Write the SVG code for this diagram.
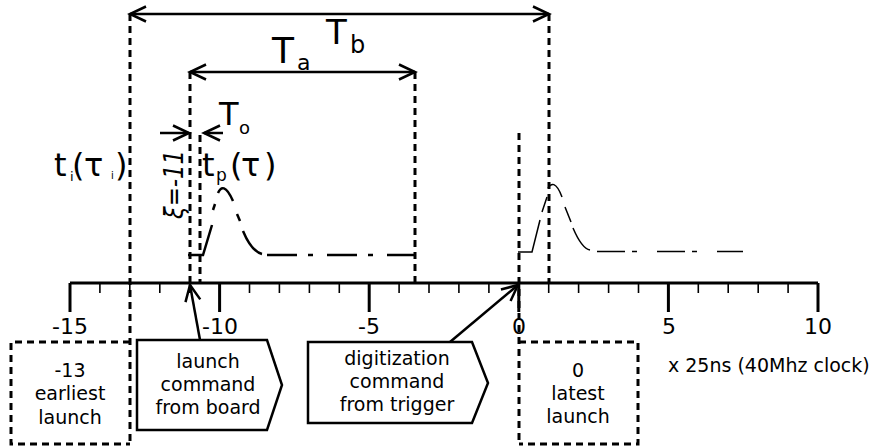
<svg xmlns="http://www.w3.org/2000/svg" width="873" height="447" viewBox="0 0 873 447">
<style>
text{font-family:"DejaVu Sans","Liberation Sans",sans-serif;fill:#000}
.dash{fill:none;stroke:#000;stroke-width:3;stroke-dasharray:7 5}
.ln{fill:none;stroke:#000;stroke-width:2.5}
.tk{stroke:#000;stroke-width:1.6}
.mj{stroke:#000;stroke-width:3}
.box{fill:#fff;stroke:#000;stroke-width:2.5;stroke-linejoin:miter}
.bt{font-size:19px;text-anchor:middle}
.tl{font-size:22px;text-anchor:middle}
.p1{fill:none;stroke:#000;stroke-width:2.5}
.p2{fill:none;stroke:#000;stroke-width:1.5}
</style>
<defs>
<marker id="ah" markerUnits="userSpaceOnUse" markerWidth="22" markerHeight="20" viewBox="0 0 22 20" refX="17" refY="10" orient="auto-start-reverse">
<path d="M1,2.5 L17,10 L1,17.5" fill="none" stroke="#000" stroke-width="2.5"/>
</marker>
</defs>

<g id="axis">
<line class="mj" x1="70" y1="283" x2="818" y2="283"/>
<g class="mj">
<line x1="70" y1="283" x2="70" y2="312"/>
<line x1="219.6" y1="283" x2="219.6" y2="312"/>
<line x1="369.2" y1="283" x2="369.2" y2="312"/>
<line x1="518.8" y1="283" x2="518.8" y2="312"/>
<line x1="668.4" y1="283" x2="668.4" y2="312"/>
<line x1="818" y1="283" x2="818" y2="312"/>
</g>
<g class="tk">
<line x1="99.9" y1="283" x2="99.9" y2="293"/>
<line x1="129.8" y1="283" x2="129.8" y2="293"/>
<line x1="159.8" y1="283" x2="159.8" y2="293"/>
<line x1="189.7" y1="283" x2="189.7" y2="293"/>
<line x1="249.5" y1="283" x2="249.5" y2="293"/>
<line x1="279.4" y1="283" x2="279.4" y2="293"/>
<line x1="309.4" y1="283" x2="309.4" y2="293"/>
<line x1="339.3" y1="283" x2="339.3" y2="293"/>
<line x1="399.1" y1="283" x2="399.1" y2="293"/>
<line x1="429" y1="283" x2="429" y2="293"/>
<line x1="458.9" y1="283" x2="458.9" y2="293"/>
<line x1="488.9" y1="283" x2="488.9" y2="293"/>
<line x1="548.7" y1="283" x2="548.7" y2="293"/>
<line x1="578.6" y1="283" x2="578.6" y2="293"/>
<line x1="608.6" y1="283" x2="608.6" y2="293"/>
<line x1="638.5" y1="283" x2="638.5" y2="293"/>
<line x1="698.3" y1="283" x2="698.3" y2="293"/>
<line x1="728.2" y1="283" x2="728.2" y2="293"/>
<line x1="758.2" y1="283" x2="758.2" y2="293"/>
<line x1="788.1" y1="283" x2="788.1" y2="293"/>
</g>
<text class="tl" x="70" y="334">-15</text>
<text class="tl" x="220" y="334">-10</text>
<text class="tl" x="369" y="334">-5</text>
<text class="tl" x="519" y="334">0</text>
<text class="tl" x="669" y="334">5</text>
<text class="tl" x="818" y="334">10</text>
<text x="668" y="372" style="font-size:19px">x 25ns (40Mhz clock)</text>
</g>

<g id="guides">
<line class="dash" x1="130" y1="14" x2="130" y2="444"/>
<line class="dash" x1="190" y1="72" x2="190" y2="283"/>
<line class="dash" x1="200" y1="135" x2="200" y2="283"/>
<line class="dash" x1="415" y1="72" x2="415" y2="283"/>
<line class="dash" x1="519" y1="133" x2="519" y2="444"/>
<line class="dash" x1="549" y1="14" x2="549" y2="283"/>
</g>

<g id="pulse1">
<path class="p1" d="M188,255 H203 L212,225"/>
<path class="p1" d="M213,210 L215,204"/>
<path class="p1" d="M218,193 C221,186 226,185 233,201"/>
<path class="p1" d="M237,214 L240,221"/>
<path class="p1" d="M243,231 C248,243 254,252 262,254"/>
<path class="p1" style="stroke-dasharray:30 11 5 14" d="M267,255 H415"/>
</g>

<g id="pulse2">
<path class="p2" d="M518,252 H532 L540,220"/>
<path class="p2" d="M542,212 L547,197"/>
<path class="p2" d="M548,188 C551,183 556,181 562,197"/>
<path class="p2" d="M565,207 L571,222"/>
<path class="p2" d="M573,228 C579,242 584,249 590,250"/>
<path class="p2" style="stroke-dasharray:28 7 5 20" d="M597,251.5 H743"/>
</g>

<g id="connectors">
<line class="ln" x1="130" y1="14" x2="549" y2="14" marker-start="url(#ah)" marker-end="url(#ah)"/>
<line class="ln" x1="190" y1="72" x2="415" y2="72" marker-start="url(#ah)" marker-end="url(#ah)"/>
<line class="ln" x1="160" y1="133" x2="189" y2="133" marker-end="url(#ah)"/>
<line class="ln" x1="223" y1="133" x2="204" y2="133" marker-end="url(#ah)"/>
<line class="ln" x1="200" y1="340" x2="190" y2="285" marker-end="url(#ah)"/>
<line class="ln" x1="450" y1="342" x2="518" y2="285" marker-end="url(#ah)"/>
</g>

<g id="label-Tb">
<text x="326" y="44" style="font-size:34px">T</text>
<text x="350" y="53" style="font-size:24px">b</text>
</g>
<g id="label-Ta">
<text x="272" y="63" style="font-size:36px">T</text>
<text x="297" y="70" style="font-size:22px">a</text>
</g>
<g id="label-To">
<text x="219" y="125" style="font-size:32px">T</text>
<text x="239" y="134" style="font-size:18px">o</text>
</g>
<g id="label-ti">
<text y="176" style="font-size:32px"><tspan x="54">t</tspan><tspan x="70" y="181" style="font-size:13px">i</tspan><tspan x="72" y="176">(</tspan><tspan x="84">τ</tspan><tspan x="111" y="179" style="font-size:10px">i</tspan><tspan x="115" y="176">)</tspan></text>
</g>
<g id="label-tp">
<text y="176" style="font-size:32px"><tspan x="202">t</tspan><tspan x="216" y="181" style="font-size:17px">p</tspan><tspan x="230" y="176">(</tspan><tspan x="241">τ</tspan><tspan x="264">)</tspan></text>
</g>
<g id="label-xi">
<text transform="translate(183,219) rotate(-90)" textLength="69" lengthAdjust="spacingAndGlyphs" style="font-size:27px;font-style:italic">ξ=-11</text>
</g>

<g id="box-earliest">
<path class="dash" d="M130,342 H11 V444 H130"/>
<text class="bt" x="70" y="377">-13</text>
<text class="bt" x="70" y="400">earliest</text>
<text class="bt" x="70" y="424">launch</text>
</g>
<g id="box-latest">
<path class="dash" d="M519,342 H638 V444 H519"/>
<text class="bt" x="578" y="377">0</text>
<text class="bt" x="578" y="400">latest</text>
<text class="bt" x="578" y="423">launch</text>
</g>
<g id="box-launch">
<polygon class="box" points="137,340 267,340 282,385 267,430 137,430"/>
<text class="bt" x="208" y="368">launch</text>
<text class="bt" x="208" y="391">command</text>
<text class="bt" x="208" y="414">from board</text>
</g>
<g id="box-digitization">
<polygon class="box" points="308,342 472,342 488,383 472,423 308,423"/>
<text class="bt" x="397" y="365">digitization</text>
<text class="bt" x="397" y="388">command</text>
<text class="bt" x="397" y="411">from trigger</text>
</g>
</svg>
